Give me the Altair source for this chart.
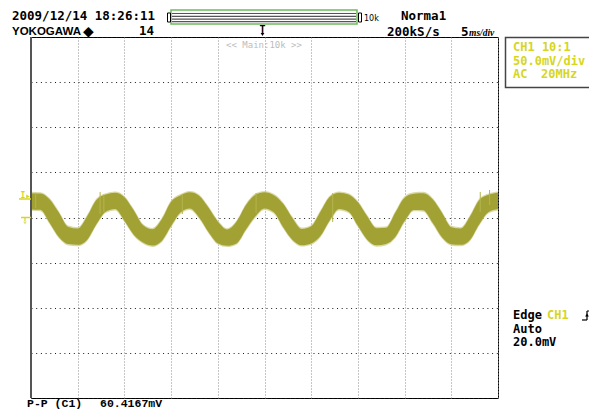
import altair as alt
import pandas as pd

# ---------------- data ----------------
time_ms = list(range(0, 51))
center_mv = [18, 17.5, 7, -8.3, -20, -21.3, -11.8, 6, 16, 18.3,
             9.4, -5.6, -18.2, -22.1, -13.9, 4, 15, 18.9, 12.1, -2.5,
             -16.5, -22.3, -16.7, 0, 13, 18.9, 15.2, 2.2, -12.8, -21.7,
             -19.2, -6.8, 10, 18.3, 16, 3.9, -11.6, -21.3, -20.4, -8.1,
             9, 17.4, 17.4, 7.1, -8.3, -20.2, -21.3, -11.8, 6, 15.6, 18.3]
half_band_mv = [9, 9, 13, 13.5, 9.5, 9, 13, 13.5, 9.5, 9,
                13, 13.5, 9.5, 9, 12, 13.5, 9.5, 9, 12, 13.5,
                12, 9, 12, 13.5, 12, 9, 9.5, 13, 12, 9,
                9.5, 13.5, 13, 9, 9.5, 13, 13, 9.5, 9, 13.5,
                13, 9, 9.5, 13, 13.5, 9.5, 9, 13, 13.5, 9.5, 9]
spike_t = [0.5, 7.4, 7.8, 16.2, 24.1, 32.3, 48.1, 49.1]
spike_hi = [27, 28.3, 25.5, 26, 27.1, 27.1, 28.3, 30.5]
spike_lo = [10.5, 3.9, 6.1, 3.9, 5.0, -5.0, 6.1, 13.9]
grid_x = [0, 5, 10, 15, 20, 25, 30, 35, 40, 45, 50]
grid_y = [-200, -150, -100, -50, 0, 50, 100, 150, 200]

header_date = "2009/12/14 18:26:11"
header_brand = "YOKOGAWA"
header_count = "14"
header_mode = "Norma1"
header_rate = "200kS/s"
header_tdiv = ("5", "ms/div")
zoom_label = "<< Main:10k >>"
ch_lines = ["CH1 10:1", "50.0mV/div", "AC", "20MHz"]
trig_lines = ["Edge", "CH1", "Auto", "20.0mV"]
meas_name = "P-P (C1)"
meas_value = "60.4167mV"

# ---------------- layout ----------------
W, H = 467, 361
X0, Y0 = 31, 37
MONO = "DejaVu Sans Mono"
YEL = "#d6d61e"
WAVE = "#a2a234"

df = pd.DataFrame({"t": time_ms, "c": center_mv, "hw": half_band_mv})
df["hi"] = df["c"] + df["hw"]
df["lo"] = df["c"] - df["hw"]
df["hi2"] = df["hi"] + 1.5
df["lo2"] = df["lo"] - 1.5
sp = pd.DataFrame({"t": spike_t, "hi": spike_hi, "lo": spike_lo})

xs = alt.Scale(domain=[0, 50], nice=False, zero=False)
ys = alt.Scale(domain=[-200, 200], nice=False, zero=False)
xaxis = alt.Axis(values=grid_x, grid=True, gridDash=[1, 2], gridColor="#8c8c8c",
                 gridWidth=1, labels=False, ticks=False, domain=False, title=None)
yaxis = alt.Axis(values=grid_y, grid=True, gridDash=[1, 3.7], gridColor="#1a1a1a",
                 gridWidth=1, labels=False, ticks=False, domain=False, title=None)

halo = alt.Chart(df).mark_area(interpolate="monotone", color="#cfcf90", opacity=0.8).encode(
    x=alt.X("t:Q", scale=xs, axis=xaxis),
    y=alt.Y("hi2:Q", scale=ys, axis=yaxis),
    y2="lo2:Q",
)
wave = alt.Chart(df).mark_area(interpolate="monotone", color=WAVE, opacity=1).encode(
    x=alt.X("t:Q", scale=xs),
    y=alt.Y("hi:Q", scale=ys),
    y2="lo:Q",
)
spikes = alt.Chart(sp).mark_rule(color="#b4b44e", strokeWidth=1).encode(
    x=alt.X("t:Q", scale=xs), y=alt.Y("hi:Q", scale=ys), y2="lo:Q"
)

ONE = alt.InlineData(values=[{"k": 1}])


def txt(s, x, y, size=12.5, color="black", font=MONO, weight="bold", align="left", style=None):
    kw = dict(text=s, fontSize=size, color=color, font=font, fontWeight=weight,
              align=align, baseline="alphabetic")
    if style:
        kw["fontStyle"] = style
    return alt.Chart(ONE).mark_text(**kw).encode(x=alt.value(x - X0), y=alt.value(y - Y0))


def hline(x1, x2, y, color="black", w=1):
    return alt.Chart(ONE).mark_rule(color=color, strokeWidth=w).encode(
        x=alt.value(x1 - X0), x2=alt.value(x2 - X0), y=alt.value(y - Y0))


def vline(x, y1, y2, color="black", w=1):
    return alt.Chart(ONE).mark_rule(color=color, strokeWidth=w).encode(
        x=alt.value(x - X0), y=alt.value(y1 - Y0), y2=alt.value(y2 - Y0))


def box(x1, x2, y1, y2, stroke, w=1):
    return alt.Chart(ONE).mark_rect(fillOpacity=0, stroke=stroke, strokeWidth=w).encode(
        x=alt.value(x1 - X0), x2=alt.value(x2 - X0), y=alt.value(y1 - Y0), y2=alt.value(y2 - Y0))


def pt(x, y, shape, size, color):
    return alt.Chart(ONE).mark_point(shape=shape, size=size, filled=True, color=color, opacity=1).encode(
        x=alt.value(x - X0), y=alt.value(y - Y0))


layers = [halo, wave, spikes,
          vline(31, 37, 398, "#555555", 2)]

# header
layers += [
    txt(header_date, 12, 19.5),
    txt(header_brand, 12, 35, size=11.5, font="Liberation Sans"),
    txt("\u25c6", 83, 35.5, size=14, font="DejaVu Sans"),
    txt(header_count, 154, 35, align="right"),
    txt(header_mode, 401, 19.5),
    txt(header_rate, 387, 35.5),
    txt(header_tdiv[0], 461, 35.5),
    txt(header_tdiv[1], 469, 35.5, size=9.5, font="Liberation Serif", style="italic"),
    box(171, 357, 10, 24, "#6cbc5c", 1.5),
    hline(172, 356, 13.5, "#555555", 1.2),
    hline(172, 356, 16.3, "#555555", 1.2),
    hline(172, 356, 19.1, "#555555", 1.2),
    hline(172, 356, 21.6, "#555555", 1.2),
    box(167.5, 170.5, 13, 22, "black", 1),
    box(358.5, 361.5, 13, 22, "black", 1),
    txt("10k", 364, 20.5, size=8, weight="normal", font="DejaVu Sans"),
    txt("T", 262.5, 33, size=10, align="center"),
    pt(262.5, 34.5, "triangle-down", 14, "black"),
    txt(zoom_label, 264, 48, size=9, color="#bdbdbd", weight="normal", align="center"),
]

# channel box
layers += [
    box(505.5, 600, 37.5, 87.5, "#444444", 1.5),
    txt(ch_lines[0], 513, 51, size=12, color=YEL),
    txt(ch_lines[1], 513, 64.5, size=12, color=YEL),
    txt(ch_lines[2], 513, 77.5, size=12, color=YEL),
    txt(ch_lines[3], 541, 77.5, size=12, color=YEL),
]

# trigger info
layers += [
    txt(trig_lines[0], 513, 319, size=12),
    txt(trig_lines[1], 547, 319, size=12, color=YEL),
    txt(trig_lines[2], 513, 332.5, size=12),
    txt(trig_lines[3], 513, 345.5, size=12),
    hline(582, 587, 320, "black", 1.2),
    vline(587, 311, 320, "black", 1.2),
    hline(587, 592, 311, "black", 1.2),
    pt(587, 315, "triangle-up", 14, "black"),
]

# level markers on the left
layers += [
    hline(19, 31, 199, YEL, 1.5),
    pt(28, 196.5, "triangle-right", 18, YEL),
    txt("I", 20.5, 198, size=8, color=YEL),
    hline(21, 31, 217.5, YEL, 1.5),
    vline(25, 217.5, 221, YEL, 1.2),
    pt(25, 223, "triangle-down", 14, "#e0e07a"),
]

# measurement
layers += [
    txt(meas_name, 27, 407, size=11.5, font="Liberation Mono"),
    txt(meas_value, 100, 407, size=11.5, font="Liberation Mono"),
]

chart = alt.layer(*layers).properties(
    width=W, height=H, autosize="none",
    padding={"left": 23, "top": 29, "right": 91, "bottom": 14},
    background="white",
).configure_view(stroke="black", strokeWidth=1)

chart.save("out.html", embed_options={"renderer": "svg", "actions": False})
